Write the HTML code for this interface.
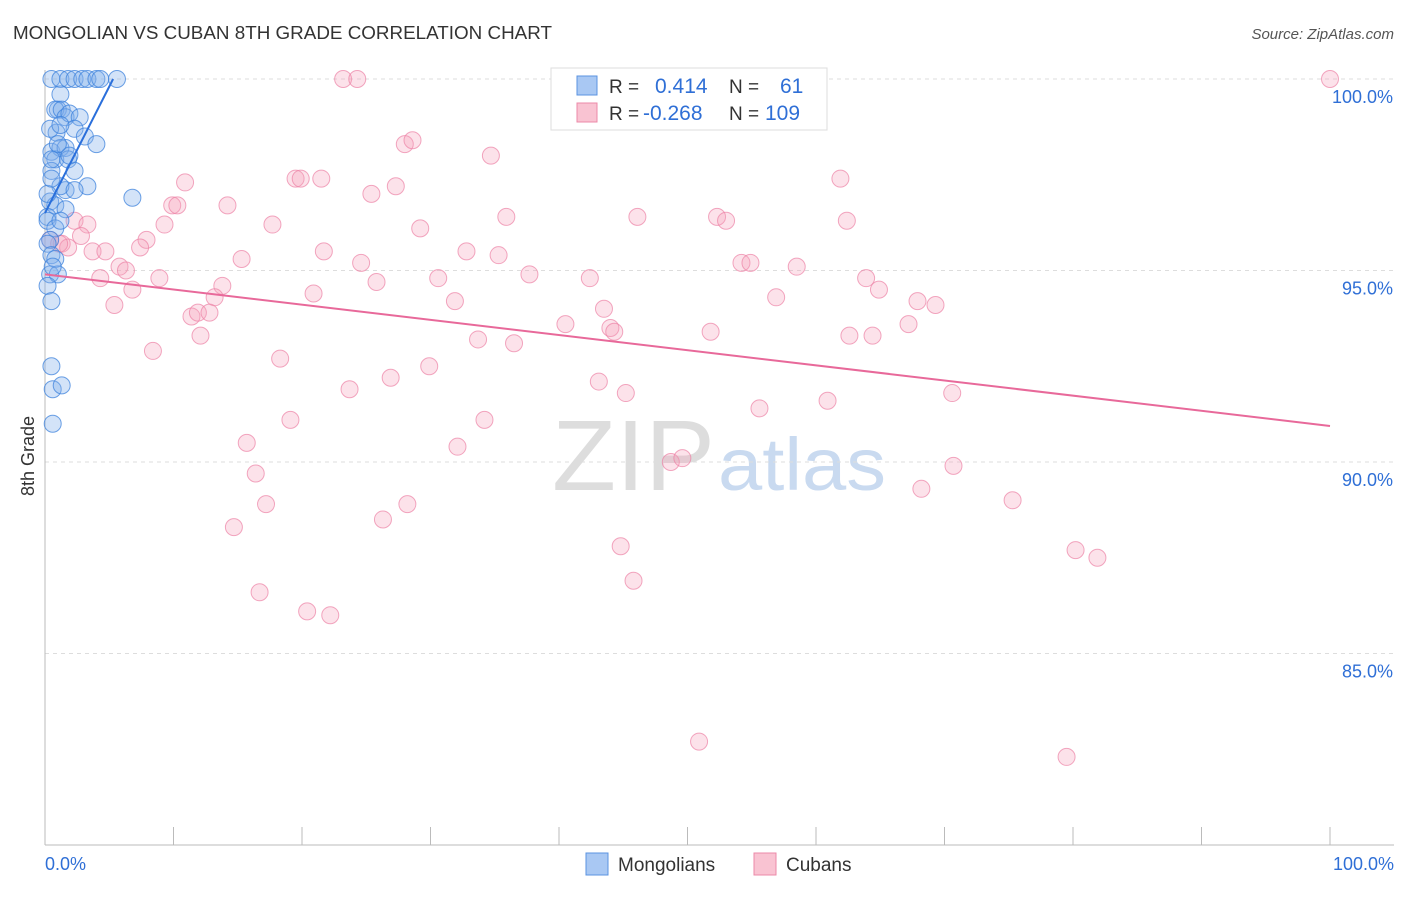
<!DOCTYPE html>
<html><head><meta charset="utf-8"><style>
body{margin:0;background:#fff;font-family:"Liberation Sans",sans-serif;}
svg text{font-family:"Liberation Sans",sans-serif;}
</style></head><body>
<svg id="chart" width="1406" height="892" viewBox="0 0 1406 892" xmlns="http://www.w3.org/2000/svg">
<text x="13" y="39" font-size="18" fill="#333" textLength="539" lengthAdjust="spacingAndGlyphs">MONGOLIAN VS CUBAN 8TH GRADE CORRELATION CHART</text>
<text x="1394" y="39" font-size="15" fill="#555" text-anchor="end" font-style="italic">Source: ZipAtlas.com</text>
<g>
<text x="552" y="490" font-size="100" fill="#ddd" font-family="Liberation Serif,serif" textLength="163" lengthAdjust="spacingAndGlyphs">ZIP</text>
<text x="718" y="490" font-size="74" fill="#c9daf0" textLength="168" lengthAdjust="spacingAndGlyphs">atlas</text>
</g>
<g id="grid"></g>
<g id="axes"></g>
<g id="pts"></g>
<g id="trends"></g>
<text transform="translate(34,456) rotate(-90)" font-size="18" fill="#333" text-anchor="middle">8th Grade</text>
<g>
<rect x="551" y="68" width="276" height="62" fill="#fff" stroke="#ddd"/>
<rect x="577" y="76" width="20" height="19" fill="#a9c8f3" stroke="#5b93e0"/>
<rect x="577" y="103" width="20" height="19" fill="#f9c3d2" stroke="#ec8aa8"/>
<text x="609" y="93" font-size="19" fill="#333">R = </text><text x="655" y="93" font-size="21" fill="#2f6fd6">0.414</text>
<text x="729" y="93" font-size="19" fill="#333">N = </text><text x="780" y="93" font-size="21" fill="#2f6fd6">61</text>
<text x="609" y="120" font-size="19" fill="#333">R = </text><text x="643" y="120" font-size="21" fill="#2f6fd6">-0.268</text>
<text x="729" y="120" font-size="19" fill="#333">N = </text><text x="765" y="120" font-size="21" fill="#2f6fd6">109</text>
</g>
<g>
<rect x="586" y="853" width="22" height="22" fill="#a9c8f3" stroke="#5b93e0"/>
<text x="618" y="871" font-size="19" fill="#333">Mongolians</text>
<rect x="754" y="853" width="22" height="22" fill="#f9c3d2" stroke="#ec8aa8"/>
<text x="786" y="871" font-size="19" fill="#333">Cubans</text>
</g>
</svg>
<script>
const yTicks=[85,90,95,100];
const yTickLabels=["85.0%","90.0%","95.0%","100.0%"];
const xEndLabels=["0.0%","100.0%"];
const mongX=[0.5,1.2,1.8,2.3,2.9,3.3,4.0,4.3,5.6,1.2,1.0,0.8,1.3,1.6,1.9,2.7,0.9,2.3,3.1,4.0,0.5,1.2,1.6,0.8,1.8,0.5,2.3,1.6,1.2,3.3,6.8,0.4,0.8,1.6,0.2,0.2,0.8,0.4,0.2,0.5,0.8,0.4,1.0,0.2,0.5,0.5,0.6,1.3,0.6,2.3,1.9,0.4,1.2,1.0,0.2,0.5,0.6,1.2,0.5];
const mongY=[100,100,100,100,100,100,100,100,100,99.6,99.2,99.2,99.2,99.0,99.1,99.0,98.6,98.7,98.5,98.3,98.1,98.2,98.2,97.9,97.9,97.6,97.6,97.1,97.2,97.2,96.9,96.8,96.7,96.6,96.4,96.3,96.1,95.8,95.7,95.4,95.3,94.9,94.9,94.6,94.2,92.5,91.9,92.0,91.0,97.1,98.0,98.7,98.8,98.3,97.0,97.4,95.1,96.3,97.9];
const cubX=[100,23.2,24.3,28.0,28.6,34.7,61.9,19.5,19.9,21.5,25.4,27.3,10.9,9.9,10.3,14.2,9.3,17.7,29.2,35.9,46.1,52.3,53.0,62.4,2.3,3.3,2.8,1.3,0.4,1.8,1.1,7.9,7.4,3.7,4.7,21.7,32.8,35.3,15.3,24.6,5.8,6.3,54.2,54.9,58.5,4.3,8.9,25.8,30.6,37.7,42.4,63.9,64.9,13.8,13.2,20.9,6.8,5.4,31.9,43.5,56.9,67.9,69.3,11.4,11.9,12.8,40.5,44.0,44.3,51.8,67.2,12.1,33.7,36.5,62.6,64.4,8.4,18.3,29.9,26.9,43.1,23.7,45.2,70.6,60.9,55.6,19.1,34.2,15.7,32.1,48.7,49.6,70.7,16.4,17.2,28.2,26.3,68.2,75.3,14.7,44.8,80.2,81.9,45.8,16.7,20.4,22.2,50.9,79.5];
const cubY=[100,100,100,98.3,98.4,98.0,97.4,97.4,97.4,97.4,97.0,97.2,97.3,96.7,96.7,96.7,96.2,96.2,96.1,96.4,96.4,96.4,96.3,96.3,96.3,96.2,95.9,95.7,95.8,95.6,95.7,95.8,95.6,95.5,95.5,95.5,95.5,95.4,95.3,95.2,95.1,95.0,95.2,95.2,95.1,94.8,94.8,94.7,94.8,94.9,94.8,94.8,94.5,94.6,94.3,94.4,94.5,94.1,94.2,94.0,94.3,94.2,94.1,93.8,93.9,93.9,93.6,93.5,93.4,93.4,93.6,93.3,93.2,93.1,93.3,93.3,92.9,92.7,92.5,92.2,92.1,91.9,91.8,91.8,91.6,91.4,91.1,91.1,90.5,90.4,90.0,90.1,89.9,89.7,88.9,88.9,88.5,89.3,89.0,88.3,87.8,87.7,87.5,86.9,86.6,86.1,86.0,82.7,82.3];
const mongTrend=[[0,96.5],[5.3,100]];
const cubTrend=[[0,94.9],[100,90.94]];
const NS="http://www.w3.org/2000/svg";
const X0=45,X1=1330,YB=845,YT=79,ymin=80,ymax=100;
const sx=v=>X0+(X1-X0)*v/100;
const sy=v=>YB-(YB-YT)*(v-ymin)/(ymax-ymin);
function mk(tag,attrs,parent){const e=document.createElementNS(NS,tag);for(const k in attrs)e.setAttribute(k,attrs[k]);parent.appendChild(e);return e;}
const grid=document.getElementById('grid'),axes=document.getElementById('axes'),pts=document.getElementById('pts'),tr=document.getElementById('trends');
yTicks.forEach((t,i)=>{
 const l=mk('line',{x1:X0,x2:1394,y1:sy(t),y2:sy(t),stroke:'#ddd','stroke-dasharray':'4,4'},grid);
 
 
 const tx=mk('text',{x:1393,y:sy(t)+24,'font-size':18,fill:'#2f6fd6','text-anchor':'end'},axes);
 tx.textContent=yTickLabels[i];
 
 
});
const ax=mk('line',{x1:X0,x2:1394,y1:YB,y2:YB,stroke:'#bbb'},axes);


const ay=mk('line',{x1:X0,x2:X0,y1:70,y2:YB,stroke:'#bbb'},axes);


for(let i=0;i<=10;i++){
 const t=mk('line',{x1:sx(i*10),x2:sx(i*10),y1:827,y2:YB,stroke:'#bbb'},axes);
 
 
}
[0,100].forEach((v,i)=>{
 const t=mk('text',{x:i?1394:45,y:870,'font-size':18,fill:'#2f6fd6','text-anchor':i?'end':'start'},axes);
 t.textContent=xEndLabels[i];
 
 
});
cubX.forEach((x,i)=>{
 const c=mk('circle',{cx:sx(x),cy:sy(cubY[i]),r:8.5,fill:'rgba(246,160,186,0.3)',stroke:'rgba(236,130,165,0.7)','stroke-width':1},pts);
 
 
});
mongX.forEach((x,i)=>{
 const c=mk('circle',{cx:sx(x),cy:sy(mongY[i]),r:8.5,fill:'rgba(130,175,235,0.35)',stroke:'rgba(60,130,220,0.75)','stroke-width':1},pts);
 
 
});
const l1=mk('line',{x1:sx(cubTrend[0][0]),y1:sy(cubTrend[0][1]),x2:sx(cubTrend[1][0]),y2:sy(cubTrend[1][1]),stroke:'#e8699a','stroke-width':2},tr);


const l2=mk('line',{x1:sx(mongTrend[0][0]),y1:sy(mongTrend[0][1]),x2:sx(mongTrend[1][0]),y2:sy(mongTrend[1][1]),stroke:'#2a6fdb','stroke-width':2},tr);


</script>
</body></html>
